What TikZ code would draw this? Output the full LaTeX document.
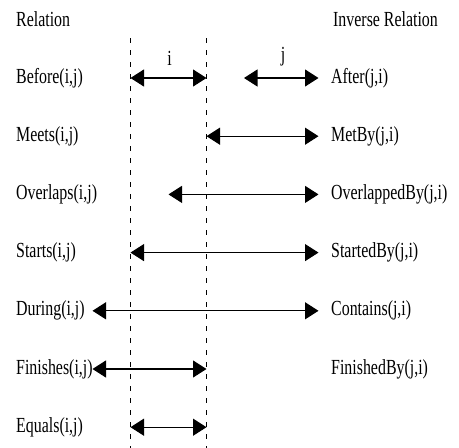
\documentclass[tikz,border=0pt]{standalone}
\usepackage{fontspec}
\setmainfont{Liberation Serif}[FakeStretch=0.74]
\usetikzlibrary{arrows.meta}
\begin{document}
\begin{tikzpicture}[x=1pt,y=-1pt,
  lbl/.style={anchor=base west,inner sep=0pt,font=\fontsize{21.5}{24}\selectfont},
  tlbl/.style={anchor=base,inner sep=0pt,font=\fontsize{21.5}{24}\selectfont},
  guide/.style={line width=0.9pt,dash pattern=on 5pt off 7pt},
  span/.style={line width=1.1pt,{Triangle[length=13.5pt,width=17pt]}-{Triangle[length=13.5pt,width=17pt]}}]
\useasboundingbox (0,0) rectangle (459,448);
\fill[white] (0,0) rectangle (459,448);

% interval i boundaries
\coordinate (gaT) at (130.5,38);
\coordinate (gaB) at (130.5,448);
\coordinate (gbT) at (206.5,38);
\coordinate (gbB) at (206.5,448);
\draw[guide] (gaT) -- (gaB);
\draw[guide] (gbT) -- (gbB);

% headings
\node[lbl] (hl) at (16,26) {Relation};
\node[lbl] (hr) at (333,26) {Inverse Relation};

% row labels
\node[lbl] (l1) at (16,83) {Before(i,j)};
\node[lbl] (r1) at (331,83) {After(j,i)};
\node[lbl] (l2) at (16,141.2) {Meets(i,j)};
\node[lbl] (r2) at (331,141.2) {MetBy(j,i)};
\node[lbl] (l3) at (16,199.4) {Overlaps(i,j)};
\node[lbl] (r3) at (331,199.4) {OverlappedBy(j,i)};
\node[lbl] (l4) at (16,257.6) {Starts(i,j)};
\node[lbl] (r4) at (331,257.6) {StartedBy(j,i)};
\node[lbl] (l5) at (16,315.8) {During(i,j)};
\node[lbl] (r5) at (331,315.8) {Contains(j,i)};
\node[lbl] (l6) at (16,374) {Finishes(i,j)};
\node[lbl] (r6) at (331,374) {FinishedBy(j,i)};
\node[lbl] (l7) at (16,432.2) {Equals(i,j)};

% interval names
\node[tlbl] (ti) at (169.5,65) {i};
\node[tlbl] (tj) at (283,61) {j};

% interval endpoints
\coordinate (a1) at (130.5,78);   \coordinate (b1) at (206.5,78);
\coordinate (c1) at (244,78);     \coordinate (d1) at (318.5,78);
\coordinate (a2) at (206.5,136.2); \coordinate (b2) at (318.5,136.2);
\coordinate (a3) at (168.5,194.4); \coordinate (b3) at (318.5,194.4);
\coordinate (a4) at (130.5,252.6); \coordinate (b4) at (318.5,252.6);
\coordinate (a5) at (92.5,310.8);  \coordinate (b5) at (318.5,310.8);
\coordinate (a6) at (92.5,369);    \coordinate (b6) at (206.5,369);
\coordinate (a7) at (130.5,427.2); \coordinate (b7) at (206.5,427.2);

\draw[span] (a1) -- (b1);
\draw[span] (c1) -- (d1);
\draw[span] (a2) -- (b2);
\draw[span] (a3) -- (b3);
\draw[span] (a4) -- (b4);
\draw[span] (a5) -- (b5);
\draw[span] (a6) -- (b6);
\draw[span] (a7) -- (b7);
\end{tikzpicture}
\end{document}
